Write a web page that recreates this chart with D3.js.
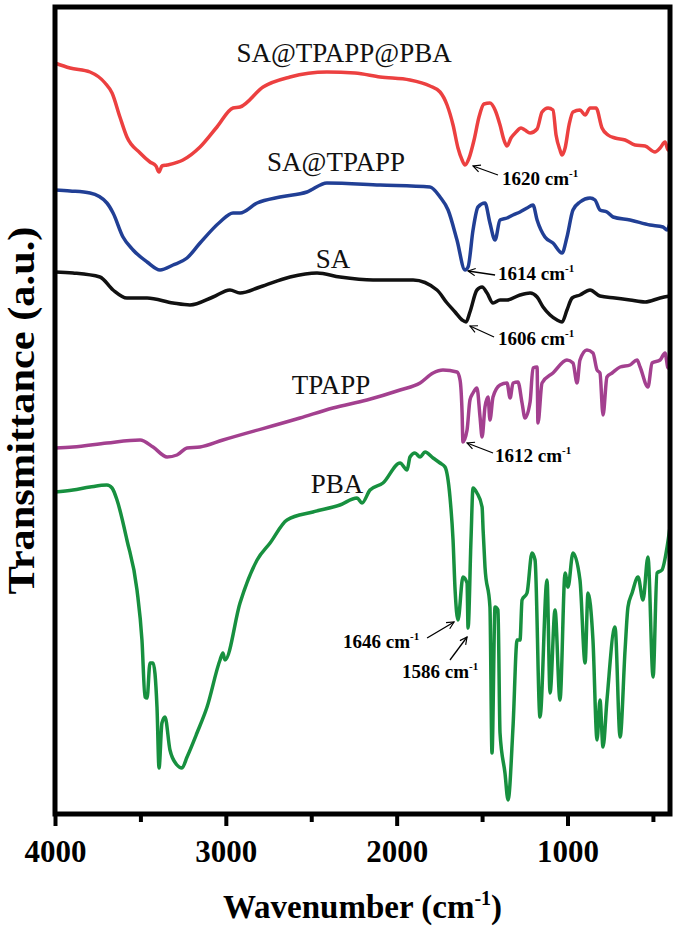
<!DOCTYPE html>
<html>
<head>
<meta charset="utf-8">
<script src="https://cdn.jsdelivr.net/npm/d3@7"></script>
<style>
  body { margin: 0; background: #fff; }
  text { font-family: "Liberation Serif", "Times New Roman", serif; }
</style>
</head>
<body>
<div id="chart"></div>
<script>
// wavenumber (cm-1) and transmittance (a.u., stacked) for each spectrum
var saTpappPbaWn = [4000,3912,3795,3707,3666,3620,3579,3502,3444,3409,3391,3374,3344,3251,3151,3052,2958,2917,2782,2624,2408,2244,2097,1922,1805,1746,1705,1670,1641,1617,1600,1576,1547,1518,1489,1454,1424,1395,1372,1354,1331,1301,1272,1249,1219,1178,1149,1114,1085,1067,1044,1032,1014,991,968,927,897,868,833,798,763,722,663,605,546,488,458,429,411,400];
var saTpappPbaT = [75.1,74.6,74.2,73.1,72.1,69.7,67.7,66.1,65.2,64.8,64.2,64.8,64.9,65.4,66.7,68.7,70.6,70.7,72.7,73.7,74.2,74.1,73.7,73.4,72.8,72.2,70.9,68.9,66.6,65.4,64.9,65.6,67.4,69.7,71.0,71.1,70.4,68.9,67.4,66.8,67.6,68.2,68.6,68.4,68.1,68.5,70.2,70.6,70.4,67.9,66.4,65.9,66.6,68.9,70.2,70.4,69.9,70.6,70.6,68.6,67.9,67.6,67.4,66.9,66.8,66.2,66.6,67.2,66.4,66.9];

var saTpappWn = [4000,3912,3795,3696,3660,3602,3543,3461,3385,3309,3227,3151,3034,2958,2917,2817,2683,2525,2408,2097,1805,1746,1699,1647,1600,1582,1553,1524,1483,1454,1424,1395,1354,1319,1278,1237,1202,1178,1132,1085,1032,1003,968,927,868,839,810,769,733,634,517,441,417,400];
var saTpappT = [62.4,62.3,62.1,61.1,60.1,57.7,56.4,55.2,54.4,54.9,55.6,57.1,59.2,60.1,60.1,61.1,61.7,62.2,63.1,62.9,62.7,61.7,60.4,57.4,54.4,54.7,58.4,60.7,61.1,59.1,57.4,59.4,59.6,59.9,60.2,60.6,60.9,59.4,57.7,57.1,56.1,57.7,60.4,61.2,61.6,61.4,60.4,60.2,59.7,59.4,58.9,58.7,58.4,59.1];

var saWn = [4000,3895,3737,3660,3579,3461,3309,3210,3075,2976,2917,2800,2624,2466,2332,2138,1904,1764,1705,1658,1617,1594,1571,1530,1500,1471,1436,1395,1354,1278,1219,1178,1143,1102,1061,1032,1003,973,927,868,810,722,634,546,458,400];
var saT = [54.2,54.1,53.7,52.4,51.6,51.6,51.1,50.9,51.7,52.4,52.1,52.7,53.7,54.1,53.7,53.4,53.4,52.4,51.1,50.2,49.4,49.2,50.2,52.4,52.7,52.1,51.1,51.4,51.4,51.9,52.1,51.7,50.7,49.9,49.4,49.2,50.4,51.6,51.9,52.4,51.8,51.6,51.4,51.2,51.6,51.8];

var tpappWn = [4000,3895,3696,3502,3426,3344,3286,3227,3151,3017,2566,2373,2174,1980,1863,1787,1729,1647,1629,1617,1612,1588,1571,1553,1530,1512,1500,1483,1465,1454,1436,1395,1354,1336,1319,1290,1266,1249,1219,1202,1178,1173,1149,1085,1003,968,944,927,886,851,827,810,792,769,739,692,634,593,575,529,505,458,429,411,400];
var tpappT = [36.6,36.7,37.1,37.4,36.7,35.7,35.9,36.6,36.7,37.4,39.6,40.6,41.4,42.4,43.1,44.1,44.4,44.2,43.4,40.1,37.2,38.4,41.4,42.1,42.6,39.7,37.7,40.7,41.7,39.4,41.7,42.9,43.1,41.6,43.1,43.2,41.1,39.6,41.2,44.6,44.7,39.1,43.1,44.1,45.4,45.1,43.1,45.4,46.4,46.1,44.4,44.1,39.9,43.7,44.1,44.7,44.9,45.4,44.7,42.7,45.1,45.4,46.1,44.6,45.4];

var pbaWn = [4000,3895,3795,3696,3666,3637,3579,3520,3491,3473,3461,3444,3426,3403,3391,3374,3356,3327,3286,3257,3227,3169,3110,3034,3017,3005,2917,2817,2741,2642,2490,2332,2232,2203,2156,2080,1980,1939,1922,1893,1863,1834,1787,1746,1717,1688,1670,1658,1641,1612,1588,1582,1565,1553,1530,1500,1494,1483,1454,1442,1424,1407,1395,1366,1348,1319,1295,1278,1266,1237,1208,1190,1161,1120,1102,1073,1044,1014,997,968,927,897,880,851,827,810,792,769,722,692,663,646,622,587,558,529,499,476,447,417,400];
var pbaT = [32.2,32.4,32.7,32.9,32.6,31.4,27.4,22.4,17.4,11.7,11.6,15.1,15.1,10.7,4.6,9.1,9.7,6.4,4.9,4.6,5.7,8.1,10.7,15.4,16.1,15.4,21.1,25.4,27.1,29.4,30.2,30.9,31.6,31.1,32.4,33.1,35.1,34.4,35.7,36.1,35.7,36.2,35.6,35.1,34.7,31.7,27.4,22.4,19.4,23.7,23.1,18.6,27.4,32.6,32.1,30.7,28.4,24.7,20.7,6.1,20.7,20.4,8.1,4.1,1.4,8.7,17.4,17.4,21.4,22.1,26.1,25.4,9.7,23.4,12.1,20.4,11.4,24.1,22.7,26.1,23.4,15.1,22.1,17.4,7.4,11.4,6.7,11.4,18.7,7.7,16.4,20.7,22.1,23.7,21.4,25.7,13.7,24.1,24.4,26.7,28.7];

var seriesNames = ["SA@TPAPP@PBA", "SA@TPAPP", "SA", "TPAPP", "PBA"];
var seriesColors = ["#ec4040", "#213f95", "#111111", "#a3408f", "#17903f"];
var seriesWn = [saTpappPbaWn, saTpappWn, saWn, tpappWn, pbaWn];
var seriesT = [saTpappPbaT, saTpappT, saT, tpappT, pbaT];
// label anchor (wavenumber, transmittance) for each spectrum name
var labelWn = [2308, 2355, 2373, 2384, 2349];
var labelT = [75.2, 64.3, 54.6, 42.0, 32.1];

var xTicks = [4000, 3000, 2000, 1000];
var xMinorTicks = [3500, 2500, 1500, 500];

// peak annotations: text anchor, arrow tail, arrow head (data units)
var peakLabels = ["1620", "1614", "1606", "1612", "1646", "1586"];
var peakTextWn = [1383, 1407, 1407, 1424, 2314, 1969];
var peakTextT = [62.9, 53.4, 46.9, 35.2, 16.6, 13.6];
var peakTailWn = [1407, 1424, 1430, 1436, 1822, 1688];
var peakTailT = [63.9, 53.9, 47.7, 36.1, 17.6, 15.4];
var peakHeadWn = [1553, 1582, 1571, 1588, 1664, 1588];
var peakHeadT = [64.8, 54.3, 48.8, 37.1, 19.2, 17.7];

var width = 680, height = 928;
var plotLeft = 55, plotRight = 670, plotTop = 7, plotBottom = 814;

var svg = d3.select("#chart")
  .append("svg")
  .attr("width", width)
  .attr("height", height);

var xScale = d3.scaleLinear().domain([4000, 400]).range([plotLeft, plotRight]);
var yScale = d3.scaleLinear().domain([0, 80.7]).range([plotBottom, plotTop]);

svg.append("defs").append("marker")
  .attr("id", "arrow")
  .attr("viewBox", "0 0 10 10")
  .attr("refX", 9).attr("refY", 5)
  .attr("markerWidth", 9).attr("markerHeight", 9)
  .attr("markerUnits", "userSpaceOnUse")
  .attr("orient", "auto")
  .append("path")
  .attr("d", "M1,1 L9,5 L1,9")
  .attr("fill", "none")
  .attr("stroke", "#000")
  .attr("stroke-width", 1.3);

// spectra
var line = d3.line()
  .x(function(d) { return xScale(d[0]); })
  .y(function(d) { return yScale(d[1]); })
  .curve(d3.curveMonotoneX);

seriesNames.forEach(function(name, i) {
  var pts = seriesWn[i].map(function(w, j) { return [w, seriesT[i][j]]; });
  svg.append("path")
    .datum(pts)
    .attr("fill", "none")
    .attr("stroke", seriesColors[i])
    .attr("stroke-width", 3.5)
    .attr("stroke-linejoin", "round")
    .attr("d", line);

  svg.append("text")
    .attr("x", xScale(labelWn[i]))
    .attr("y", yScale(labelT[i]))
    .attr("text-anchor", "middle")
    .attr("font-size", 27)
    .attr("fill", "#111")
    .text(name);
});

// x axis with outward ticks
var xAxis = d3.axisBottom(xScale).tickValues(xTicks).tickSize(12).tickPadding(14)
  .tickFormat(d3.format("d"));
var gx = svg.append("g")
  .attr("transform", "translate(0," + plotBottom + ")")
  .call(xAxis);
gx.select(".domain").remove();
gx.selectAll(".tick line").attr("stroke", "#000").attr("stroke-width", 4);
gx.selectAll(".tick text")
  .attr("font-size", 31)
  .attr("font-weight", "bold")
  .attr("font-family", "Liberation Serif")
  .attr("fill", "#000");

svg.append("g")
  .attr("transform", "translate(0," + plotBottom + ")")
  .call(d3.axisBottom(xScale).tickValues(xMinorTicks).tickSize(8).tickFormat(""))
  .call(function(g) { g.select(".domain").remove(); })
  .selectAll(".tick line").attr("stroke", "#000").attr("stroke-width", 4);

// frame
svg.append("rect")
  .attr("x", plotLeft).attr("y", plotTop)
  .attr("width", plotRight - plotLeft).attr("height", plotBottom - plotTop)
  .attr("fill", "none")
  .attr("stroke", "#000")
  .attr("stroke-width", 5);

// axis titles
var xt = svg.append("text")
  .attr("x", (plotLeft + plotRight) / 2)
  .attr("y", 918)
  .attr("text-anchor", "middle")
  .attr("font-size", 33)
  .attr("font-weight", "bold");
xt.append("tspan").text("Wavenumber (cm");
xt.append("tspan").attr("font-size", 20).attr("dy", -13).text("-1");
xt.append("tspan").attr("dy", 13).text(")");

svg.append("text")
  .attr("transform", "translate(34," + ((plotTop + plotBottom) / 2) + ") rotate(-90)")
  .attr("text-anchor", "middle")
  .attr("font-size", 37)
  .attr("font-weight", "bold")
  .attr("textLength", 368)
  .attr("lengthAdjust", "spacingAndGlyphs")
  .text("Transmittance (a.u.)");

// peak annotations
peakLabels.forEach(function(lab, i) {
  svg.append("line")
    .attr("x1", xScale(peakTailWn[i])).attr("y1", yScale(peakTailT[i]))
    .attr("x2", xScale(peakHeadWn[i])).attr("y2", yScale(peakHeadT[i]))
    .attr("stroke", "#000")
    .attr("stroke-width", 1.3)
    .attr("marker-end", "url(#arrow)");
  var t = svg.append("text")
    .attr("x", xScale(peakTextWn[i]))
    .attr("y", yScale(peakTextT[i]))
    .attr("font-size", 19)
    .attr("font-weight", "bold");
  t.append("tspan").text(lab + " cm");
  t.append("tspan").attr("font-size", 11).attr("dy", -8).text("-1");
});
</script>
</body>
</html>
